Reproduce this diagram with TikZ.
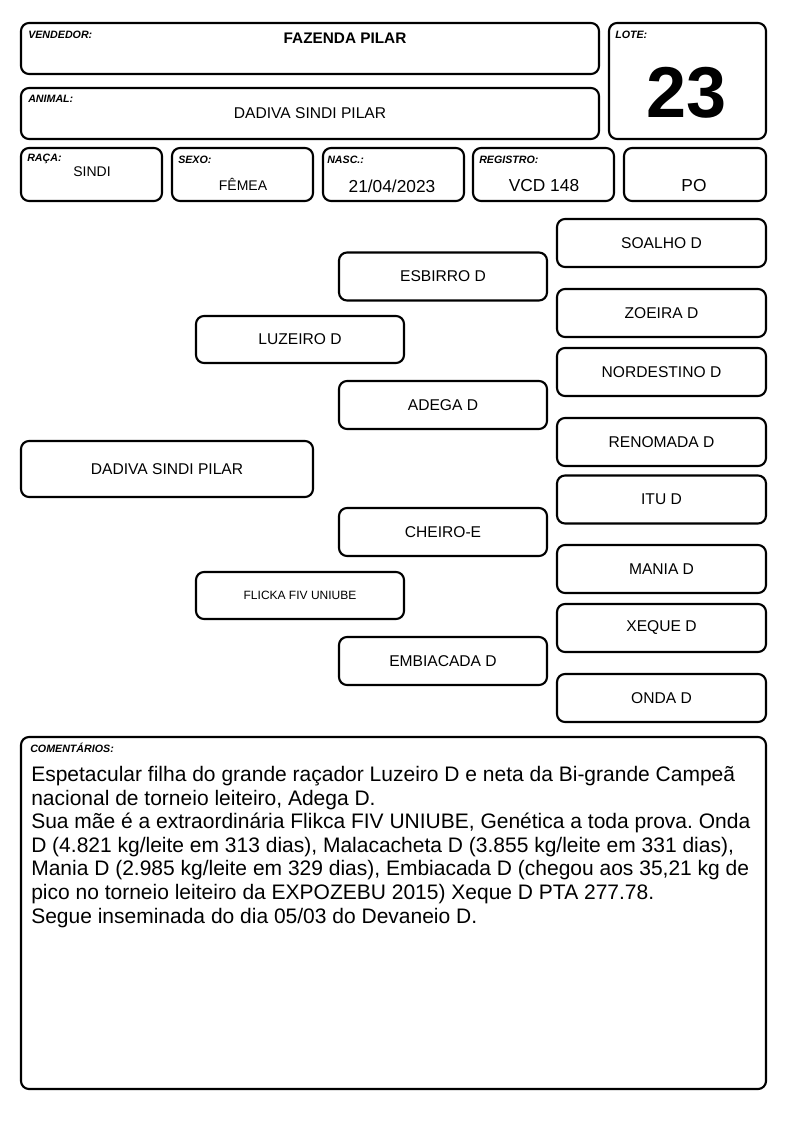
\documentclass[tikz,border=0pt]{standalone}
\usepackage{fontspec}
\setmainfont{Liberation Sans}
\usetikzlibrary{positioning}
\frenchspacing

\begin{document}
\begin{tikzpicture}[
    x=0.75pt, y=-0.75pt,
    every node/.style={font=\fontsize{11.7}{13}\selectfont},
    card/.style={draw, line width=1.6pt, rounded corners=6pt, inner sep=0pt, outer sep=0pt},
    boxsize/.style 2 args={minimum width={#1*0.75pt}, minimum height={#2*0.75pt}},
    famcard/.style={card, boxsize={208}{48}},
    tag/.style={anchor=west, inner sep=0pt, font=\fontsize{8}{9}\selectfont\bfseries\itshape}
]
\useasboundingbox (0,0) rectangle (794,1123);

% --- Header ---
\node[card, boxsize={578}{51}] (vend) at (310,48.5) {};
\node[tag] (vendtag) at (28,35) {VENDEDOR:};
\node[font=\fontsize{11.5}{13}\selectfont\bfseries] (vendval) at (345,38) {FAZENDA PILAR};

\node[card, boxsize={157}{116}] (lote) at (687.5,81) {};
\node[tag] (lotetag) at (615,35) {LOTE:};
\node[font=\fontsize{54}{60}\selectfont\bfseries] (loteval) at (687,93) {23};

\node[card, boxsize={578}{51}] (animal) at (310,113.5) {};
\node[tag] (animaltag) at (28,99) {ANIMAL:};
\node (animalval) at (310,113) {DADIVA SINDI PILAR};

% --- Data row ---
\node[card, boxsize={141}{53}] (raca) at (91.5,174.5) {};
\node[tag] (racatag) at (27,159) {RAÇA:};
\node[font=\fontsize{10.5}{12}\selectfont] (racaval) at (92,172) {SINDI};

\node[card, boxsize={141}{53}] (sexo) at (242.5,174.5) {};
\node[tag] (sexotag) at (178,160) {SEXO:};
\node[font=\fontsize{10.5}{12}\selectfont] (sexoval) at (243,184) {FÊMEA};

\node[card, boxsize={141}{53}] (nasc) at (393.5,174.5) {};
\node[tag] (nasctag) at (327,160) {NASC.:};
\node[font=\fontsize{13}{15}\selectfont] (nascval) at (392,186) {21/04/2023};

\node[card, boxsize={141}{53}] (reg) at (543.5,174.5) {};
\node[tag] (regtag) at (479,160) {REGISTRO:};
\node[font=\fontsize{13}{15}\selectfont] (regval) at (544,186) {VCD 148};

\node[card, boxsize={142}{53}] (po) at (695,174.5) {};
\node[font=\fontsize{13}{15}\selectfont] (poval) at (694,186) {PO};

% --- Pedigree ---
\node[card, boxsize={292}{56}] (dadiva) at (167,469) {DADIVA SINDI PILAR};

\node[card, boxsize={208}{47}] (luzeiro) at (300,339.5) {LUZEIRO D};
\node[card, boxsize={208}{47}, font=\fontsize{9}{11}\selectfont] (flicka) at (300,595.5) {FLICKA FIV UNIUBE};

\node[famcard] (esbirro) at (443,276.5) {ESBIRRO D};
\node[famcard] (adega) at (443,405) {ADEGA D};
\node[famcard] (cheiro) at (443,532) {CHEIRO-E};
\node[famcard] (embiacada) at (443,661) {EMBIACADA D};

\foreach \nm/\yy/\txt in {soalho/243/SOALHO D, zoeira/313/ZOEIRA D,
    nordestino/372/NORDESTINO D, renomada/442/RENOMADA D, itu/499.5/ITU D,
    mania/569/MANIA D, xeque/628/XEQUE D, onda/698/ONDA D}
    \node[famcard, boxsize={209}{48}] (\nm) at (661.5,\yy) {\txt};

% --- Comments ---
\node[card, boxsize={745}{352}] (coment) at (393.5,913) {};
\node[tag] (comenttag) at (30,748) {COMENTÁRIOS:};
\node[anchor=north west, inner sep=0pt, align=left,
      font=\fontsize{15.75}{17.7}\selectfont] (comenttxt) at (31,766)
    {Espetacular filha do grande raçador Luzeiro D e neta da Bi-grande Campeã\\
     nacional de torneio leiteiro, Adega D.\\
     Sua mãe é a extraordinária Flikca FIV UNIUBE, Genética a toda prova. Onda\\
     D (4.821 kg/leite em 313 dias), Malacacheta D (3.855 kg/leite em 331 dias),\\
     Mania D (2.985 kg/leite em 329 dias), Embiacada D (chegou aos 35,21 kg de\\
     pico no torneio leiteiro da EXPOZEBU 2015) Xeque D PTA 277.78.\\
     Segue inseminada do dia 05/03 do Devaneio D.};

\end{tikzpicture}
\end{document}
